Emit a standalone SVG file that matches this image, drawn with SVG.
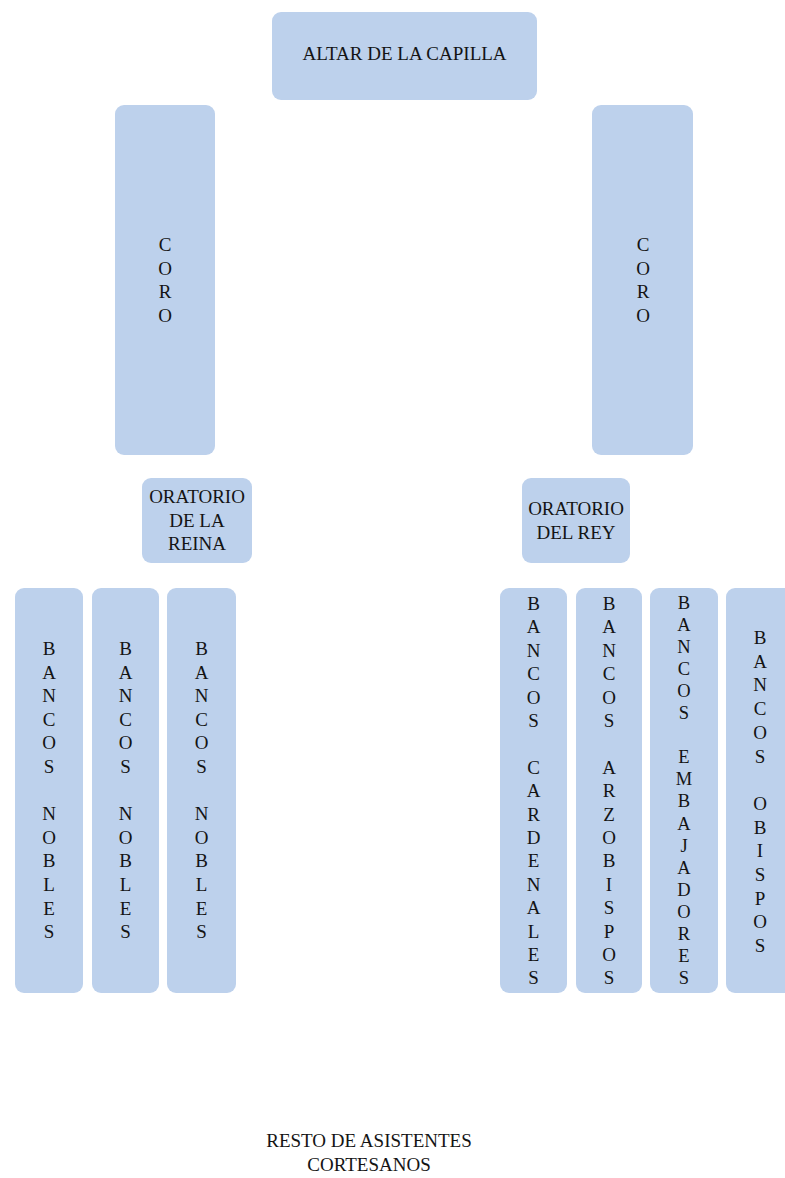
<svg xmlns="http://www.w3.org/2000/svg" width="785" height="1178" viewBox="0 0 785 1178">
  <style>
    .box { fill: #bdd1ec; }
    .lbl { font-family: "Liberation Serif", "Times New Roman", serif; font-size: 19px; fill: #141414; text-anchor: middle; }
  </style>
  <rect width="785" height="1178" fill="#ffffff"/>
  <g id="connectors"/>

  <g id="altar">
    <rect class="box" x="272" y="12" width="265" height="88" rx="9"/>
    <text class="lbl" x="404.5" y="60">ALTAR DE LA CAPILLA</text>
  </g>

  <g id="coro-izq">
    <rect class="box" x="115" y="105" width="100" height="350" rx="9"/>
    <text class="lbl" x="165" y="251"><tspan x="165">C</tspan><tspan x="165" dy="23.5">O</tspan><tspan x="165" dy="23.5">R</tspan><tspan x="165" dy="23.5">O</tspan></text>
  </g>

  <g id="coro-der">
    <rect class="box" x="592" y="105" width="101" height="350" rx="9"/>
    <text class="lbl" x="643" y="251"><tspan x="643">C</tspan><tspan x="643" dy="23.5">O</tspan><tspan x="643" dy="23.5">R</tspan><tspan x="643" dy="23.5">O</tspan></text>
  </g>

  <g id="oratorio-reina">
    <rect class="box" x="142" y="478" width="110" height="85" rx="9"/>
    <text class="lbl" x="197" y="503"><tspan x="197">ORATORIO</tspan><tspan x="197" dy="23.5">DE LA</tspan><tspan x="197" dy="23.5">REINA</tspan></text>
  </g>

  <g id="oratorio-rey">
    <rect class="box" x="522" y="478" width="108" height="85" rx="9"/>
    <text class="lbl" x="576" y="515"><tspan x="576">ORATORIO</tspan><tspan x="576" dy="23.5">DEL REY</tspan></text>
  </g>

  <!-- bancos de nobles, lado izquierdo -->
  <g id="bancos-nobles-1">
    <rect class="box" x="15" y="588" width="68" height="405" rx="9"/>
    <text class="lbl" y="655"><tspan x="49">B</tspan><tspan x="49" dy="23.6">A</tspan><tspan x="49" dy="23.6">N</tspan><tspan x="49" dy="23.6">C</tspan><tspan x="49" dy="23.6">O</tspan><tspan x="49" dy="23.6">S</tspan><tspan x="49" dy="47.2">N</tspan><tspan x="49" dy="23.6">O</tspan><tspan x="49" dy="23.6">B</tspan><tspan x="49" dy="23.6">L</tspan><tspan x="49" dy="23.6">E</tspan><tspan x="49" dy="23.6">S</tspan></text>
  </g>
  <g id="bancos-nobles-2">
    <rect class="box" x="92" y="588" width="67" height="405" rx="9"/>
    <text class="lbl" y="655"><tspan x="125.5">B</tspan><tspan x="125.5" dy="23.6">A</tspan><tspan x="125.5" dy="23.6">N</tspan><tspan x="125.5" dy="23.6">C</tspan><tspan x="125.5" dy="23.6">O</tspan><tspan x="125.5" dy="23.6">S</tspan><tspan x="125.5" dy="47.2">N</tspan><tspan x="125.5" dy="23.6">O</tspan><tspan x="125.5" dy="23.6">B</tspan><tspan x="125.5" dy="23.6">L</tspan><tspan x="125.5" dy="23.6">E</tspan><tspan x="125.5" dy="23.6">S</tspan></text>
  </g>
  <g id="bancos-nobles-3">
    <rect class="box" x="167" y="588" width="69" height="405" rx="9"/>
    <text class="lbl" y="655"><tspan x="201.5">B</tspan><tspan x="201.5" dy="23.6">A</tspan><tspan x="201.5" dy="23.6">N</tspan><tspan x="201.5" dy="23.6">C</tspan><tspan x="201.5" dy="23.6">O</tspan><tspan x="201.5" dy="23.6">S</tspan><tspan x="201.5" dy="47.2">N</tspan><tspan x="201.5" dy="23.6">O</tspan><tspan x="201.5" dy="23.6">B</tspan><tspan x="201.5" dy="23.6">L</tspan><tspan x="201.5" dy="23.6">E</tspan><tspan x="201.5" dy="23.6">S</tspan></text>
  </g>

  <!-- bancos del lado derecho -->
  <g id="bancos-cardenales">
    <rect class="box" x="500" y="588" width="67" height="405" rx="9"/>
    <text class="lbl" y="610"><tspan x="533.5">B</tspan><tspan x="533.5" dy="23.4">A</tspan><tspan x="533.5" dy="23.4">N</tspan><tspan x="533.5" dy="23.4">C</tspan><tspan x="533.5" dy="23.4">O</tspan><tspan x="533.5" dy="23.4">S</tspan><tspan x="533.5" dy="46.8">C</tspan><tspan x="533.5" dy="23.4">A</tspan><tspan x="533.5" dy="23.4">R</tspan><tspan x="533.5" dy="23.4">D</tspan><tspan x="533.5" dy="23.4">E</tspan><tspan x="533.5" dy="23.4">N</tspan><tspan x="533.5" dy="23.4">A</tspan><tspan x="533.5" dy="23.4">L</tspan><tspan x="533.5" dy="23.4">E</tspan><tspan x="533.5" dy="23.4">S</tspan></text>
  </g>
  <g id="bancos-arzobispos">
    <rect class="box" x="576" y="588" width="66" height="405" rx="9"/>
    <text class="lbl" y="610"><tspan x="609">B</tspan><tspan x="609" dy="23.4">A</tspan><tspan x="609" dy="23.4">N</tspan><tspan x="609" dy="23.4">C</tspan><tspan x="609" dy="23.4">O</tspan><tspan x="609" dy="23.4">S</tspan><tspan x="609" dy="46.8">A</tspan><tspan x="609" dy="23.4">R</tspan><tspan x="609" dy="23.4">Z</tspan><tspan x="609" dy="23.4">O</tspan><tspan x="609" dy="23.4">B</tspan><tspan x="609" dy="23.4">I</tspan><tspan x="609" dy="23.4">S</tspan><tspan x="609" dy="23.4">P</tspan><tspan x="609" dy="23.4">O</tspan><tspan x="609" dy="23.4">S</tspan></text>
  </g>
  <g id="bancos-embajadores">
    <rect class="box" x="650" y="588" width="68" height="405" rx="9"/>
    <text class="lbl" y="608.5" style="font-size:18.5px"><tspan x="684">B</tspan><tspan x="684" dy="22.1">A</tspan><tspan x="684" dy="22.1">N</tspan><tspan x="684" dy="22.1">C</tspan><tspan x="684" dy="22.1">O</tspan><tspan x="684" dy="22.1">S</tspan><tspan x="684" dy="44.2">E</tspan><tspan x="684" dy="22.1">M</tspan><tspan x="684" dy="22.1">B</tspan><tspan x="684" dy="22.1">A</tspan><tspan x="684" dy="22.1">J</tspan><tspan x="684" dy="22.1">A</tspan><tspan x="684" dy="22.1">D</tspan><tspan x="684" dy="22.1">O</tspan><tspan x="684" dy="22.1">R</tspan><tspan x="684" dy="22.1">E</tspan><tspan x="684" dy="22.1">S</tspan></text>
  </g>
  <g id="bancos-obispos">
    <rect class="box" x="726" y="588" width="68" height="405" rx="9"/>
    <text class="lbl" y="644"><tspan x="760">B</tspan><tspan x="760" dy="23.7">A</tspan><tspan x="760" dy="23.7">N</tspan><tspan x="760" dy="23.7">C</tspan><tspan x="760" dy="23.7">O</tspan><tspan x="760" dy="23.7">S</tspan><tspan x="760" dy="47.4">O</tspan><tspan x="760" dy="23.7">B</tspan><tspan x="760" dy="23.7">I</tspan><tspan x="760" dy="23.7">S</tspan><tspan x="760" dy="23.7">P</tspan><tspan x="760" dy="23.7">O</tspan><tspan x="760" dy="23.7">S</tspan></text>
  </g>

  <g id="resto-asistentes">
    <text class="lbl" y="1147"><tspan x="369">RESTO DE ASISTENTES</tspan><tspan x="369" dy="23.5">CORTESANOS</tspan></text>
  </g>
</svg>
